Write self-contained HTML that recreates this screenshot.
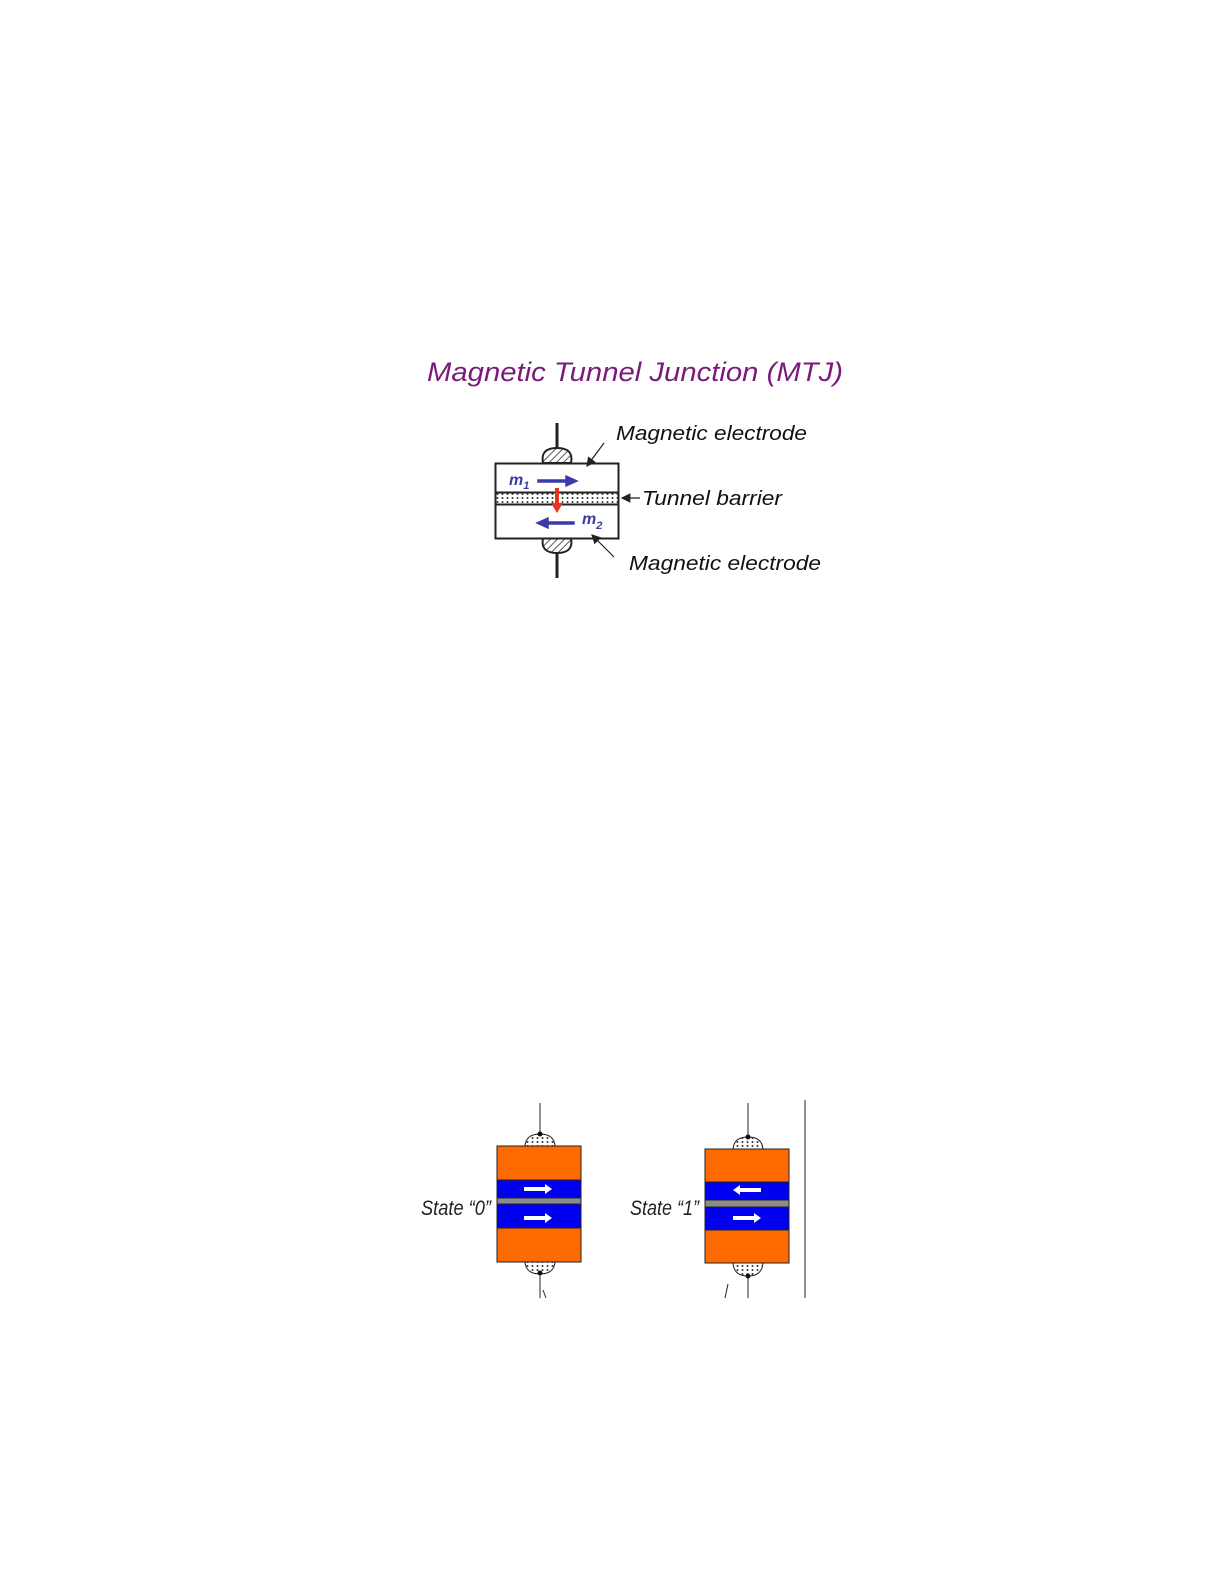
<!DOCTYPE html>
<html><head><style>
body{margin:0;background:#fff;width:1224px;height:1584px;overflow:hidden;}
svg{display:block}
text{font-family:"Liberation Sans",Arial,sans-serif;font-style:italic}
</style></head><body>
<svg width="1224" height="1584" viewBox="0 0 1224 1584">
<defs>
<pattern id="hatch" width="5" height="5" patternUnits="userSpaceOnUse" patternTransform="rotate(45)">
<rect width="5" height="5" fill="#fff"/><line x1="0" y1="0" x2="0" y2="5" stroke="#333" stroke-width="1.6"/></pattern>
<pattern id="dots" width="5" height="4" patternUnits="userSpaceOnUse">
<rect width="5" height="4" fill="#fff"/><circle cx="2.5" cy="2" r="1" fill="#333"/></pattern>
<marker id="ah" markerWidth="8" markerHeight="8" refX="7" refY="4" orient="auto"><path d="M0,0 L8,4 L0,8 Z" fill="#222"/></marker>
</defs>
<text x="427" y="381" font-size="27" fill="#7a1a7a" textLength="416" lengthAdjust="spacingAndGlyphs">Magnetic Tunnel Junction (MTJ)</text>
<!-- top MTJ -->
<line x1="557" y1="423" x2="557" y2="450" stroke="#222" stroke-width="3"/>
<line x1="557" y1="551" x2="557" y2="578" stroke="#222" stroke-width="3"/>
<path d="M543,463 Q540,448 557,448 Q574,448 571,463 Z" fill="url(#hatch)" stroke="#222" stroke-width="2"/>
<path d="M543,538 Q540,553 557,553 Q574,553 571,538 Z" fill="url(#hatch)" stroke="#222" stroke-width="2"/>
<rect x="495.500" y="463.500" width="123" height="75" fill="#fff" stroke="#222" stroke-width="2"/>
<rect x="495.500" y="492.500" width="123" height="12" fill="url(#dots)" stroke="#222" stroke-width="2"/>
<text x="509" y="485" font-size="16" font-weight="bold" font-family="Liberation Serif" fill="#3a3aa8">m<tspan font-size="11" dy="4">1</tspan></text>
<path d="M538,480 L566,480 L566,476 L577,481 L566,486 L566,482 L538,482 Z" fill="#3a3aa8" stroke="#3a3aa8" stroke-width="1.5"/>
<path d="M574,522 L548,522 L548,518 L537,523 L548,528 L548,524 L574,524 Z" fill="#3a3aa8" stroke="#3a3aa8" stroke-width="1.5"/>
<text x="582" y="524" font-size="16" font-weight="bold" font-family="Liberation Serif" fill="#3a3aa8">m<tspan font-size="11" dy="5">2</tspan></text>
<path d="M555,488 L559,488 L559,503 L563,503 L557,513 L551,503 L555,503 Z" fill="#e8321e"/>
<text x="616" y="440" font-size="20" fill="#111" textLength="191" lengthAdjust="spacingAndGlyphs">Magnetic electrode</text>
<text x="642" y="505" font-size="20" fill="#111" textLength="140" lengthAdjust="spacingAndGlyphs">Tunnel barrier</text>
<text x="629" y="570" font-size="20" fill="#111" textLength="192" lengthAdjust="spacingAndGlyphs">Magnetic electrode</text>
<line x1="604" y1="443" x2="587" y2="466" stroke="#222" stroke-width="1.2" marker-end="url(#ah)"/>
<line x1="640" y1="498" x2="622" y2="498" stroke="#222" stroke-width="1.2" marker-end="url(#ah)"/>
<line x1="614" y1="557" x2="592" y2="535" stroke="#222" stroke-width="1.2" marker-end="url(#ah)"/>
<!-- state 0 -->
<g stroke="#222" stroke-width="1">
<line x1="540" y1="1103" x2="540" y2="1135"/>
<line x1="540" y1="1272" x2="540" y2="1298"/>
<path d="M525,1146 Q526,1134 540,1134 Q554,1134 555,1146 Z" fill="url(#dots)"/>
<path d="M525,1262 Q526,1274 540,1274 Q554,1274 555,1262 Z" fill="url(#dots)"/>
<rect x="497" y="1146" width="84" height="34" fill="#ff6a00"/>
<rect x="497" y="1180" width="84" height="18" fill="#0000f0"/>
<rect x="497" y="1198" width="84" height="6" fill="#8c8c8c"/>
<rect x="497" y="1204" width="84" height="24" fill="#0000f0"/>
<rect x="497" y="1228" width="84" height="34" fill="#ff6a00"/>
<line x1="543" y1="1290" x2="546" y2="1298"/>
<!-- state 1 -->
<line x1="748" y1="1103" x2="748" y2="1137"/>
<line x1="748" y1="1274" x2="748" y2="1298"/>
<path d="M733,1149 Q734,1137 748,1137 Q762,1137 763,1149 Z" fill="url(#dots)"/>
<path d="M733,1263 Q734,1276 748,1276 Q762,1276 763,1263 Z" fill="url(#dots)"/>
<rect x="705" y="1149" width="84" height="33" fill="#ff6a00"/>
<rect x="705" y="1182" width="84" height="18" fill="#0000f0"/>
<rect x="705" y="1200" width="84" height="7" fill="#8c8c8c"/>
<rect x="705" y="1207" width="84" height="23" fill="#0000f0"/>
<rect x="705" y="1230" width="84" height="33" fill="#ff6a00"/>
<line x1="728" y1="1284" x2="725" y2="1298"/>
<line x1="805" y1="1100" x2="805" y2="1298"/>
</g>
<circle cx="540" cy="1134" r="2.5" fill="#111"/><circle cx="540" cy="1273" r="2.5" fill="#111"/>
<circle cx="748" cy="1137" r="2.5" fill="#111"/><circle cx="748" cy="1276" r="2.5" fill="#111"/>
<g fill="#fff">
<path d="M524,1187 L545,1187 L545,1184 L552,1189 L545,1194 L545,1191 L524,1191 Z"/>
<path d="M524,1216 L545,1216 L545,1213 L552,1218 L545,1223 L545,1220 L524,1220 Z"/>
<path d="M761,1188 L740,1188 L740,1185 L733,1190 L740,1195 L740,1192 L761,1192 Z"/>
<path d="M733,1216 L754,1216 L754,1213 L761,1218 L754,1223 L754,1220 L733,1220 Z"/>
</g>
<text x="421" y="1215" font-size="21" fill="#222" textLength="70" lengthAdjust="spacingAndGlyphs">State “0”</text>
<text x="630" y="1215" font-size="21" fill="#222" textLength="69" lengthAdjust="spacingAndGlyphs">State “1”</text>
</svg>
</body></html>
